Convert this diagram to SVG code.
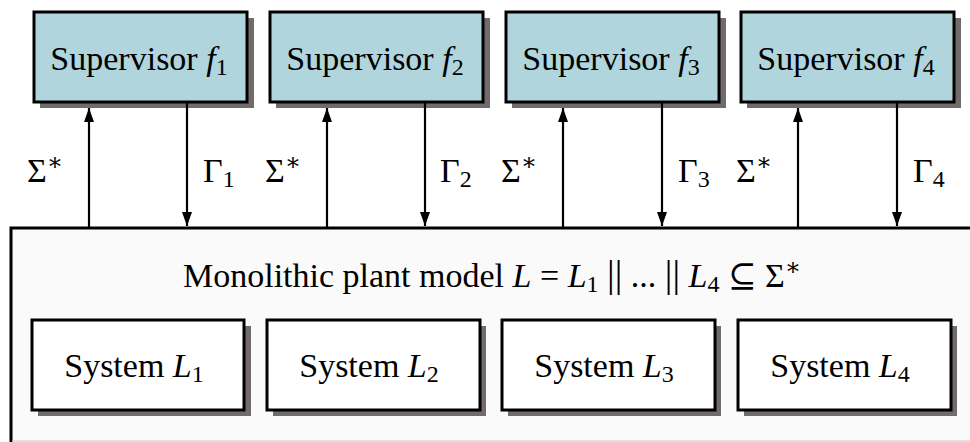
<svg xmlns="http://www.w3.org/2000/svg" width="970" height="442" viewBox="0 0 970 442">
<style>
text{font-family:"Liberation Serif","DejaVu Serif",serif;font-size:34px;fill:#000}
.it{font-style:italic}
.sub{font-size:24px}
.bar{font-size:38px}
.sup{fill:#b0d5dc;stroke:#000;stroke-width:3}
.sys{fill:#fff;stroke:#000;stroke-width:3}
.sh{fill:#726b6b}
.arr{stroke:#000;stroke-width:2.2;fill:none;marker-end:url(#ah)}
</style>
<defs>
<marker id="ah" viewBox="0 0 14 10" refX="14" refY="5" markerWidth="14" markerHeight="10" orient="auto" markerUnits="userSpaceOnUse">
<path d="M0,0 L14,5 L0,10 z" fill="#000"/>
</marker>
</defs>
<rect width="970" height="442" fill="#fff"/>

<g id="plant">
<rect x="11" y="228" width="980" height="230" fill="#fafafa" stroke="#000" stroke-width="3"/>
<line x1="12" y1="441" x2="970" y2="441" stroke="#c8c8c8" stroke-width="1"/>
<text x="492" y="287" text-anchor="middle">Monolithic plant model <tspan class="it">L</tspan> = <tspan class="it">L</tspan><tspan class="sub" dy="5">1</tspan><tspan dy="-5"> </tspan><tspan class="bar">||</tspan> ... <tspan class="bar">||</tspan> <tspan class="it">L</tspan><tspan class="sub" dy="5">4</tspan><tspan dy="-5"> ⊆ Σ</tspan><tspan class="sub" dy="-12">∗</tspan></text>
</g>

<g id="sys1">
<rect class="sh" x="38" y="326" width="213" height="90"/>
<rect class="sys" x="32" y="320" width="212" height="90"/>
<text x="134" y="377" text-anchor="middle">System <tspan class="it">L</tspan><tspan class="sub" dy="5">1</tspan></text>
</g>
<g id="sys2">
<rect class="sh" x="273" y="326" width="213" height="90"/>
<rect class="sys" x="267" y="320" width="213" height="90"/>
<text x="369" y="377" text-anchor="middle">System <tspan class="it">L</tspan><tspan class="sub" dy="5">2</tspan></text>
</g>
<g id="sys3">
<rect class="sh" x="508" y="326" width="213" height="90"/>
<rect class="sys" x="502" y="320" width="213" height="90"/>
<text x="604" y="377" text-anchor="middle">System <tspan class="it">L</tspan><tspan class="sub" dy="5">3</tspan></text>
</g>
<g id="sys4">
<rect class="sh" x="744" y="326" width="213" height="90"/>
<rect class="sys" x="738" y="320" width="213" height="90"/>
<text x="840" y="377" text-anchor="middle">System <tspan class="it">L</tspan><tspan class="sub" dy="5">4</tspan></text>
</g>

<g id="sup1">
<rect class="sh" x="40" y="18" width="214" height="90"/>
<rect class="sup" x="34" y="12" width="213" height="90"/>
<text x="139" y="70" text-anchor="middle">Supervisor <tspan class="it">f</tspan><tspan class="sub" dy="5">1</tspan></text>
</g>
<g id="sup2">
<rect class="sh" x="276" y="18" width="214" height="90"/>
<rect class="sup" x="270" y="12" width="213" height="90"/>
<text x="375" y="70" text-anchor="middle">Supervisor <tspan class="it">f</tspan><tspan class="sub" dy="5">2</tspan></text>
</g>
<g id="sup3">
<rect class="sh" x="512" y="18" width="214" height="90"/>
<rect class="sup" x="506" y="12" width="213" height="90"/>
<text x="611" y="70" text-anchor="middle">Supervisor <tspan class="it">f</tspan><tspan class="sub" dy="5">3</tspan></text>
</g>
<g id="sup4">
<rect class="sh" x="747" y="18" width="214" height="90"/>
<rect class="sup" x="741" y="12" width="213" height="90"/>
<text x="846" y="70" text-anchor="middle">Supervisor <tspan class="it">f</tspan><tspan class="sub" dy="5">4</tspan></text>
</g>

<g id="connectors">
<line class="arr" x1="89" y1="227" x2="89" y2="108"/>
<line class="arr" x1="187" y1="103" x2="187" y2="226"/>
<line class="arr" x1="327" y1="227" x2="327" y2="108"/>
<line class="arr" x1="425" y1="103" x2="425" y2="226"/>
<line class="arr" x1="563" y1="227" x2="563" y2="108"/>
<line class="arr" x1="662" y1="103" x2="662" y2="226"/>
<line class="arr" x1="798" y1="227" x2="798" y2="108"/>
<line class="arr" x1="897" y1="103" x2="897" y2="226"/>
<text x="27" y="182">Σ<tspan class="sub" dy="-12">∗</tspan></text>
<text x="203" y="182">Γ<tspan class="sub" dy="5">1</tspan></text>
<text x="265" y="182">Σ<tspan class="sub" dy="-12">∗</tspan></text>
<text x="440" y="182">Γ<tspan class="sub" dy="5">2</tspan></text>
<text x="501" y="182">Σ<tspan class="sub" dy="-12">∗</tspan></text>
<text x="678" y="182">Γ<tspan class="sub" dy="5">3</tspan></text>
<text x="736" y="182">Σ<tspan class="sub" dy="-12">∗</tspan></text>
<text x="913" y="182">Γ<tspan class="sub" dy="5">4</tspan></text>
</g>
</svg>
